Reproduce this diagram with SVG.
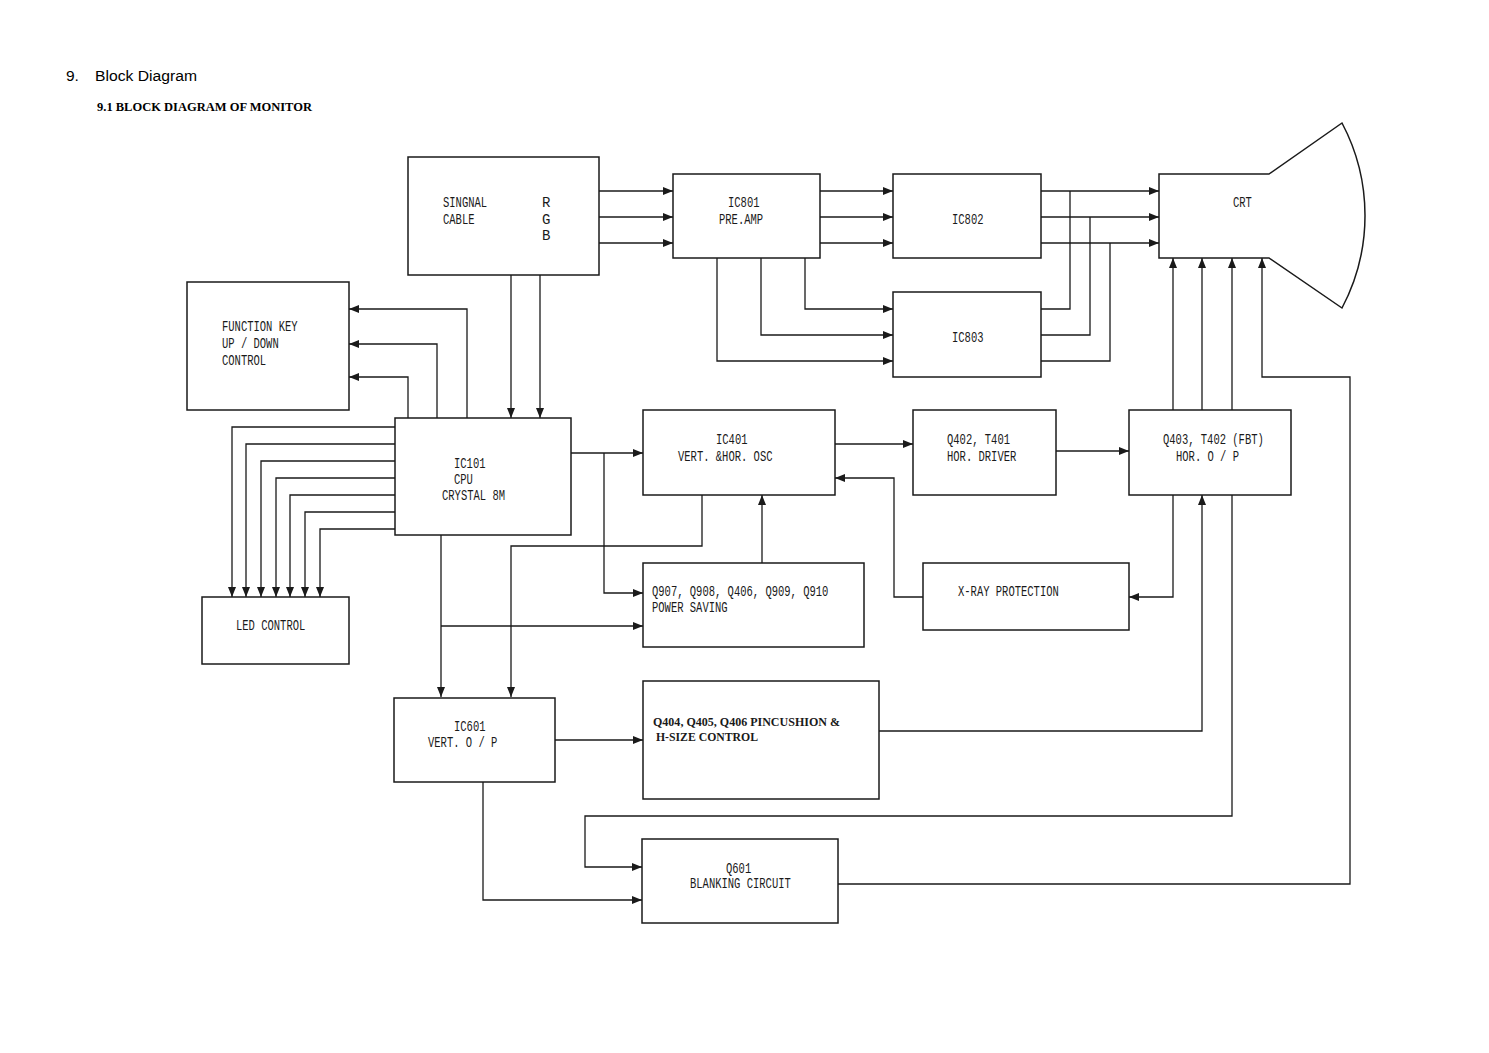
<svg xmlns="http://www.w3.org/2000/svg" width="1489" height="1053" viewBox="0 0 1489 1053">
<style>
.box{fill:#fff;stroke:#1a1a1a;stroke-width:1.5}
.ln{fill:none;stroke:#1a1a1a;stroke-width:1.3}
.ar{fill:none;stroke:#1a1a1a;stroke-width:1.3;marker-end:url(#ah)}
.t{font-family:"Liberation Mono",monospace;font-size:14px;fill:#1a1a1a}
.h1{font-family:"Liberation Sans",Arial,sans-serif;font-size:15.5px;fill:#000}
.h2{font-family:"Liberation Serif","Times New Roman",serif;font-size:12px;font-weight:bold;fill:#000}
.pb{font-family:"Liberation Serif","Times New Roman",serif;font-size:12.5px;font-weight:bold;fill:#1a1a1a}
</style>
<defs>
<marker id="ah" markerUnits="userSpaceOnUse" markerWidth="11" markerHeight="9" refX="10" refY="4" orient="auto">
<path d="M0,0 L10,4 L0,8 z" fill="#1a1a1a"/>
</marker>
</defs>
<rect width="1489" height="1053" fill="#fff"/>
<text class="h1" x="66" y="81">9.</text>
<text class="h1" x="95" y="81" textLength="102" lengthAdjust="spacingAndGlyphs">Block Diagram</text>
<text class="h2" x="97" y="111" textLength="215" lengthAdjust="spacingAndGlyphs">9.1 BLOCK DIAGRAM OF MONITOR</text>

<g id="connectors">
<path class="ar" d="M599,191 H673"/>
<path class="ar" d="M599,217 H673"/>
<path class="ar" d="M599,243 H673"/>
<path class="ar" d="M820,191 H893"/>
<path class="ar" d="M820,217 H893"/>
<path class="ar" d="M820,243 H893"/>
<path class="ar" d="M805,258 V309 H893"/>
<path class="ar" d="M761,258 V335 H893"/>
<path class="ar" d="M717,258 V361 H893"/>
<path class="ar" d="M1041,191 H1159"/>
<path class="ar" d="M1041,217 H1159"/>
<path class="ar" d="M1041,243 H1159"/>
<path class="ln" d="M1041,309 H1070 V191"/>
<path class="ln" d="M1041,335 H1090 V217"/>
<path class="ln" d="M1041,361 H1110 V243"/>
<path class="ar" d="M1173,410 V258"/>
<path class="ar" d="M1202,410 V258"/>
<path class="ar" d="M1232,410 V258"/>
<path class="ar" d="M838,884 H1350 V377 H1262 V258"/>
<path class="ar" d="M467,418 V309 H349"/>
<path class="ar" d="M437,418 V344 H349"/>
<path class="ar" d="M408,418 V377 H349"/>
<path class="ar" d="M511,275 V418"/>
<path class="ar" d="M540,275 V418"/>
<path class="ar" d="M395,427 H232 V597"/>
<path class="ar" d="M395,444 H246 V597"/>
<path class="ar" d="M395,461 H261 V597"/>
<path class="ar" d="M395,478 H276 V597"/>
<path class="ar" d="M395,495 H290 V597"/>
<path class="ar" d="M395,512 H305 V597"/>
<path class="ar" d="M395,529 H320 V597"/>
<path class="ar" d="M571,453 H643"/>
<path class="ar" d="M604,453 V593 H643"/>
<path class="ar" d="M441,535 V697"/>
<path class="ar" d="M441,626 H643"/>
<path class="ar" d="M702,495 V546 H511 V697"/>
<path class="ar" d="M762,563 V495"/>
<path class="ar" d="M835,444 H913"/>
<path class="ar" d="M1056,451 H1129"/>
<path class="ar" d="M923,597 H894 V478 H835"/>
<path class="ar" d="M1173,495 V597 H1129"/>
<path class="ar" d="M879,731 H1202 V495"/>
<path class="ar" d="M1232,495 V816 H585 V867 H642"/>
<path class="ar" d="M555,740 H643"/>
<path class="ar" d="M483,782 V900 H642"/>
</g>

<g id="signal-cable">
<rect class="box" x="408" y="157" width="191" height="118"/>
<text class="t" x="443" y="207" textLength="44.1" lengthAdjust="spacingAndGlyphs">SINGNAL</text>
<text class="t" x="443" y="224" textLength="31.5" lengthAdjust="spacingAndGlyphs">CABLE</text>
<text class="t" x="542" y="207">R</text>
<text class="t" x="542" y="224">G</text>
<text class="t" x="542" y="240">B</text>
</g>
<g id="ic801">
<rect class="box" x="673" y="174" width="147" height="84"/>
<text class="t" x="728" y="207" textLength="31.5" lengthAdjust="spacingAndGlyphs">IC801</text>
<text class="t" x="719" y="224" textLength="44.1" lengthAdjust="spacingAndGlyphs">PRE.AMP</text>
</g>
<g id="ic802">
<rect class="box" x="893" y="174" width="148" height="84"/>
<text class="t" x="952" y="224" textLength="31.5" lengthAdjust="spacingAndGlyphs">IC802</text>
</g>
<g id="ic803">
<rect class="box" x="893" y="292" width="148" height="85"/>
<text class="t" x="952" y="342" textLength="31.5" lengthAdjust="spacingAndGlyphs">IC803</text>
</g>
<g id="crt">
<path class="box" d="M1269,174 H1159 V258 H1269 L1342,308 A197.5,197.5 0 0 0 1342,123 Z"/>
<text class="t" x="1233" y="207" textLength="18.9" lengthAdjust="spacingAndGlyphs">CRT</text>
</g>
<g id="function-key">
<rect class="box" x="187" y="282" width="162" height="128"/>
<text class="t" x="222" y="331" textLength="75.6" lengthAdjust="spacingAndGlyphs">FUNCTION KEY</text>
<text class="t" x="222" y="348" textLength="56.7" lengthAdjust="spacingAndGlyphs">UP / DOWN</text>
<text class="t" x="222" y="365" textLength="44.1" lengthAdjust="spacingAndGlyphs">CONTROL</text>
</g>
<g id="ic101">
<rect class="box" x="395" y="418" width="176" height="117"/>
<text class="t" x="454" y="468" textLength="31.5" lengthAdjust="spacingAndGlyphs">IC101</text>
<text class="t" x="454" y="484" textLength="18.9" lengthAdjust="spacingAndGlyphs">CPU</text>
<text class="t" x="442" y="500" textLength="63" lengthAdjust="spacingAndGlyphs">CRYSTAL 8M</text>
</g>
<g id="led-control">
<rect class="box" x="202" y="597" width="147" height="67"/>
<text class="t" x="236" y="630" textLength="69.3" lengthAdjust="spacingAndGlyphs">LED CONTROL</text>
</g>
<g id="ic401">
<rect class="box" x="643" y="410" width="192" height="85"/>
<text class="t" x="716" y="444" textLength="31.5" lengthAdjust="spacingAndGlyphs">IC401</text>
<text class="t" x="678" y="461" textLength="94.5" lengthAdjust="spacingAndGlyphs">VERT. &amp;HOR. OSC</text>
</g>
<g id="q402">
<rect class="box" x="913" y="410" width="143" height="85"/>
<text class="t" x="947" y="444" textLength="63" lengthAdjust="spacingAndGlyphs">Q402, T401</text>
<text class="t" x="947" y="461" textLength="69.3" lengthAdjust="spacingAndGlyphs">HOR. DRIVER</text>
</g>
<g id="q403">
<rect class="box" x="1129" y="410" width="162" height="85"/>
<text class="t" x="1163" y="444" textLength="100.8" lengthAdjust="spacingAndGlyphs">Q403, T402 (FBT)</text>
<text class="t" x="1176" y="461" textLength="63" lengthAdjust="spacingAndGlyphs">HOR. O / P</text>
</g>
<g id="power-saving">
<rect class="box" x="643" y="563" width="221" height="84"/>
<text class="t" x="652" y="596" textLength="176.4" lengthAdjust="spacingAndGlyphs">Q907, Q908, Q406, Q909, Q910</text>
<text class="t" x="652" y="612" textLength="75.6" lengthAdjust="spacingAndGlyphs">POWER SAVING</text>
</g>
<g id="x-ray">
<rect class="box" x="923" y="563" width="206" height="67"/>
<text class="t" x="958" y="596" textLength="100.8" lengthAdjust="spacingAndGlyphs">X-RAY PROTECTION</text>
</g>
<g id="ic601">
<rect class="box" x="394" y="698" width="161" height="84"/>
<text class="t" x="454" y="731" textLength="31.5" lengthAdjust="spacingAndGlyphs">IC601</text>
<text class="t" x="428" y="747" textLength="69.3" lengthAdjust="spacingAndGlyphs">VERT. O / P</text>
</g>
<g id="pincushion">
<rect class="box" x="643" y="681" width="236" height="118"/>
<text class="pb" x="653" y="726" textLength="187" lengthAdjust="spacingAndGlyphs">Q404, Q405, Q406 PINCUSHION &amp;</text>
<text class="pb" x="656" y="741" textLength="102" lengthAdjust="spacingAndGlyphs">H-SIZE CONTROL</text>
</g>
<g id="blanking">
<rect class="box" x="642" y="839" width="196" height="84"/>
<text class="t" x="726" y="873" textLength="25.2" lengthAdjust="spacingAndGlyphs">Q601</text>
<text class="t" x="690" y="888" textLength="100.8" lengthAdjust="spacingAndGlyphs">BLANKING CIRCUIT</text>
</g>
</svg>
